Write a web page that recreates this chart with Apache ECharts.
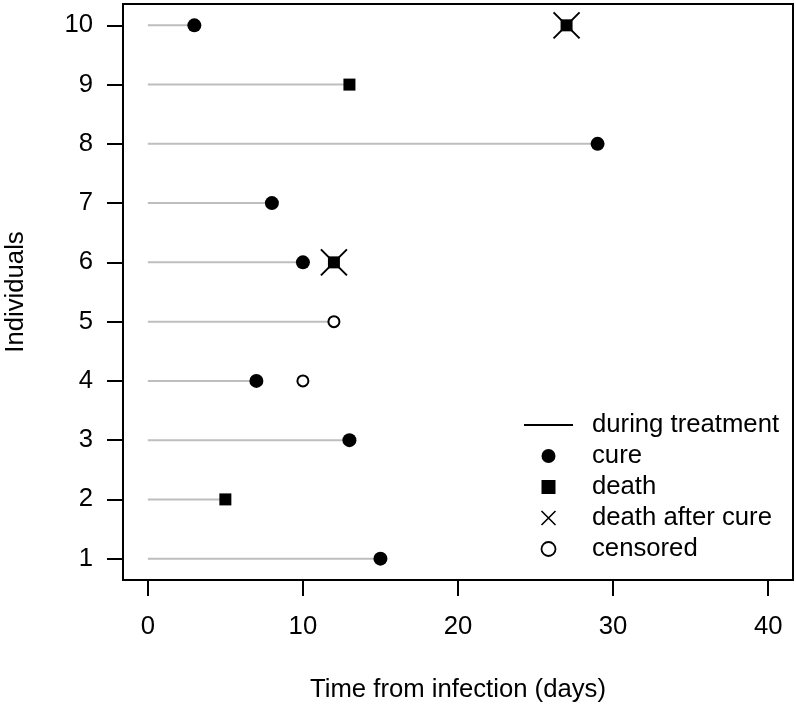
<!DOCTYPE html>
<html><head><meta charset="utf-8">
<script src="https://cdn.jsdelivr.net/npm/echarts@6/dist/echarts.min.js"></script>
<style>html,body{margin:0;padding:0;background:#fff}#c{width:796px;height:708px}</style>
</head><body><div id="c"></div><script>
// Data
const individuals = [1, 2, 3, 4, 5, 6, 7, 8, 9, 10];
const treatmentEnd = [15, 5, 13, 7, 12, 10, 8, 29, 13, 3];
const cureTime = [15, null, 13, 7, null, 10, 8, 29, null, 3];
const deathTime = [null, 5, null, null, null, 12, null, null, 13, 27];
const deathAfterCureTime = [null, null, null, null, null, 12, null, null, null, 27];
const censoredTime = [null, null, null, 10, 12, null, null, null, null, null];
const xTicks = [0, 10, 20, 30, 40];
const yTicks = [1, 2, 3, 4, 5, 6, 7, 8, 9, 10];
const legendNames = ['during treatment', 'cure', 'death', 'death after cure', 'censored'];

function pts(times) {
  const out = [];
  times.forEach((t, i) => { if (t !== null) out.push([t, individuals[i]]); });
  return out;
}

const FONT = 'Liberation Sans, Arial, Helvetica, sans-serif';
const FS = 25.7;
const XPATH = 'path://M0,0L10,10M10,0L0,10';
const SQPATH = 'path://M0,0L10,0L10,10L0,10Z';
const LINEPATH = 'path://M0,0L49,0L49,2L0,2Z';

const chart = echarts.init(document.getElementById('c'), null, {renderer: 'canvas'});
chart.setOption({
  backgroundColor: '#fff',
  animation: false,
  textStyle: {fontFamily: FONT},
  grid: {left: 123, right: 3, top: 4, bottom: 128, outerBoundsMode: 'none', containLabel: false,
         show: true, borderColor: '#000', borderWidth: 2, backgroundColor: 'transparent'},
  xAxis: {
    type: 'value', min: -1.6, max: 41.6,
    name: 'Time from infection (days)', nameLocation: 'middle', nameGap: 97,
    nameTextStyle: {fontSize: FS, color: '#000', fontFamily: FONT},
    axisLine: {show: false, onZero: false},
    axisTick: {show: true, inside: false, length: 16, lineStyle: {color: '#000', width: 2}, customValues: xTicks},
    axisLabel: {fontSize: FS, color: '#000', margin: 34, fontFamily: FONT, customValues: xTicks},
    splitLine: {show: false}
  },
  yAxis: {
    type: 'value', min: 0.64, max: 10.36,
    name: 'Individuals', nameLocation: 'middle', nameGap: 94, nameRotate: 90,
    nameTextStyle: {fontSize: FS, color: '#000', fontFamily: FONT},
    axisLine: {show: false, onZero: false},
    axisTick: {show: true, inside: false, length: 16, lineStyle: {color: '#000', width: 2}, customValues: yTicks},
    axisLabel: {fontSize: FS, color: '#000', margin: 30, fontFamily: FONT, customValues: yTicks},
    splitLine: {show: false}
  },
  legend: {
    orient: 'vertical', left: 519, top: 407, itemWidth: 49, itemHeight: 14, itemGap: 5,
    selectedMode: false,
    textStyle: {fontSize: FS, color: '#000', fontFamily: FONT, lineHeight: 24, padding: [0, 0, 0, 14]},
    data: [
      {name: legendNames[0], icon: LINEPATH, itemStyle: {color: '#000', borderWidth: 0}},
      {name: legendNames[1], icon: 'circle', itemStyle: {color: '#000', borderWidth: 0}},
      {name: legendNames[2], icon: SQPATH, itemStyle: {color: '#000', borderWidth: 0}},
      {name: legendNames[3], icon: XPATH, itemStyle: {color: 'none', borderColor: '#000', borderWidth: 1.6}},
      {name: legendNames[4], icon: 'circle', itemStyle: {color: '#fff', borderColor: '#000', borderWidth: 1.8}}
    ]
  },
  series: [
    {
      name: legendNames[0], type: 'custom', z: 1,
      data: individuals.map((id, i) => [treatmentEnd[i], id]),
      encode: {x: 0, y: 1},
      itemStyle: {color: '#bebebe'},
      renderItem: function (params, api) {
        const s = api.coord([0, api.value(1)]);
        const e = api.coord([api.value(0), api.value(1)]);
        return {type: 'line', shape: {x1: s[0], y1: s[1], x2: e[0], y2: e[1]}, style: {stroke: '#bebebe', lineWidth: 2}};
      }
    },
    {name: legendNames[1], type: 'scatter', z: 3, symbol: 'circle', symbolSize: 14, data: pts(cureTime), itemStyle: {color: '#000', opacity: 1}},
    {name: legendNames[2], type: 'scatter', z: 3, symbol: 'rect', symbolSize: 12, data: pts(deathTime), itemStyle: {color: '#000', opacity: 1}},
    {name: legendNames[3], type: 'scatter', z: 4, symbol: XPATH, symbolSize: 26, data: pts(deathAfterCureTime), itemStyle: {color: 'none', borderColor: '#000', borderWidth: 2, opacity: 1}},
    {name: legendNames[4], type: 'scatter', z: 3, symbol: 'circle', symbolSize: 11, data: pts(censoredTime), itemStyle: {color: '#fff', borderColor: '#000', borderWidth: 2, opacity: 1}}
  ]
});
</script></body></html>
